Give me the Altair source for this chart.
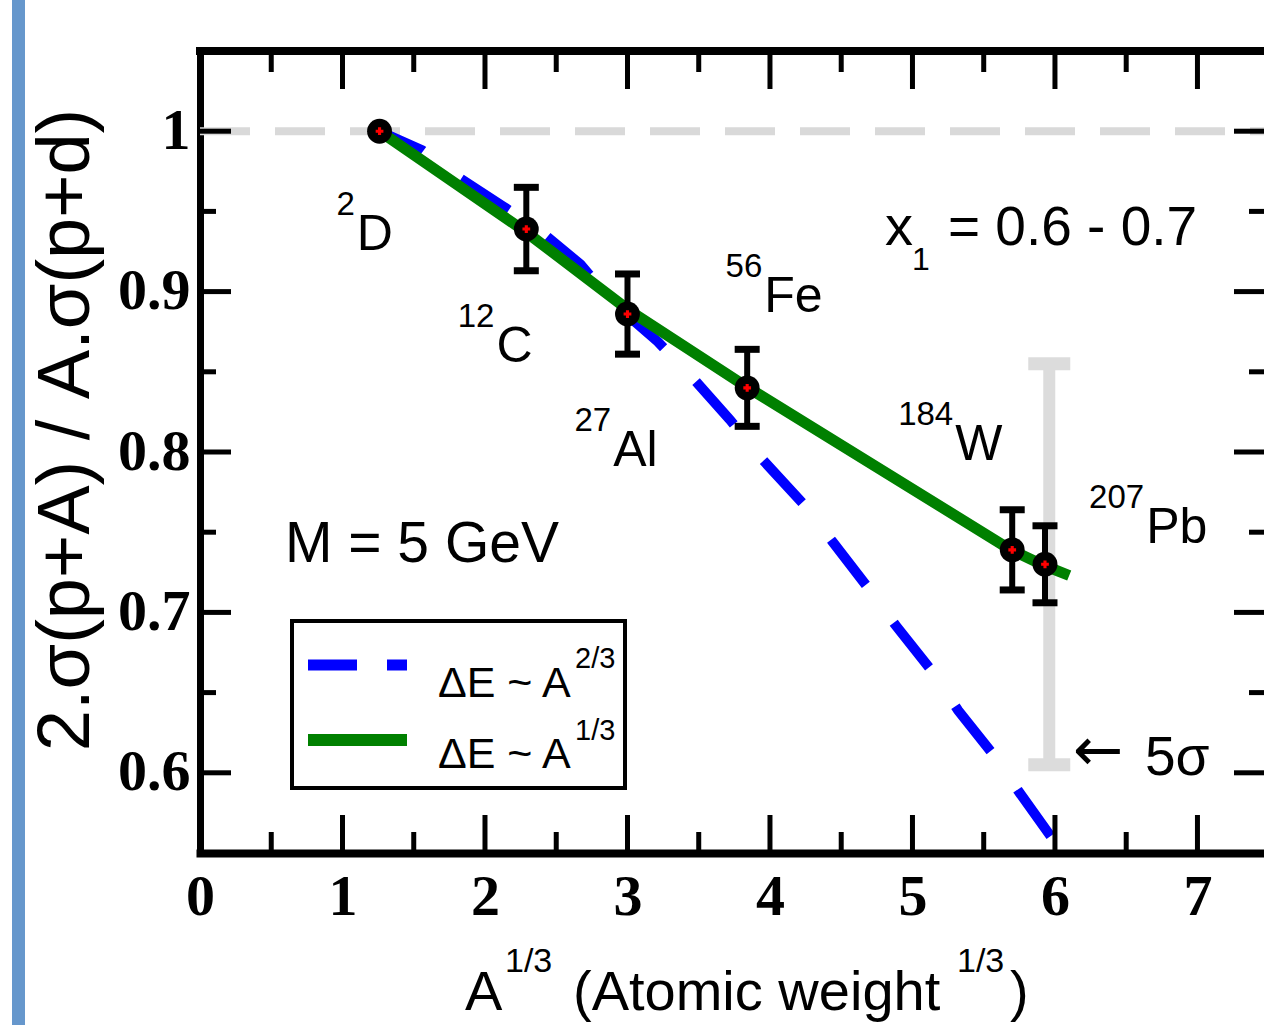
import altair as alt
import pandas as pd

# ---------------- data ----------------
nuclei = ["D", "C", "Al", "Fe", "W", "Pb"]
mass_number = ["2", "12", "27", "56", "184", "207"]
a_third = [1.26, 2.29, 3.00, 3.84, 5.70, 5.93]
ratio = [1.000, 0.939, 0.886, 0.840, 0.739, 0.730]
ratio_err = [0.0, 0.026, 0.025, 0.024, 0.025, 0.024]
label_x = [1.10, 2.08, 2.90, 3.96, 5.30, 6.64]
label_y = [0.926, 0.856, 0.791, 0.887, 0.795, 0.743]

# dE ~ A^(1/3) model curve (green)
green_x = [1.26, 2.29, 3.00, 3.83, 5.69, 5.93, 6.10]
green_y = [1.000, 0.937, 0.889, 0.841, 0.739, 0.729, 0.723]

# dE ~ A^(2/3) model curve (blue dashed)
blue_x = [1.26, 1.56, 1.80, 2.13, 2.37, 2.67, 2.90, 3.21, 3.43, 3.72, 3.94,
          4.23, 4.44, 4.70, 4.89, 5.14, 5.32, 5.57, 5.74, 5.99]
blue_y = [1.000, 0.988, 0.972, 0.953, 0.939, 0.917, 0.893, 0.869, 0.849, 0.820, 0.796,
          0.768, 0.744, 0.714, 0.691, 0.663, 0.639, 0.611, 0.589, 0.558]

sigma5_x = [5.96]
sigma5_lo = [0.605]
sigma5_hi = [0.855]
reference_level = [1.0]

x_labels = [0, 1, 2, 3, 4, 5, 6, 7]
y_labels = [0.6, 0.7, 0.8, 0.9, 1.0]
x_major = [1, 2, 3, 4, 5, 6, 7]
x_minor = [0.5, 1.5, 2.5, 3.5, 4.5, 5.5, 6.5]
y_major = [0.6, 0.7, 0.8, 0.9, 1.0]
y_minor = [0.65, 0.75, 0.85, 0.95]

legend_labels = ["ΔE ~ A", "ΔE ~ A"]
legend_sups = ["2/3", "1/3"]
x_title_parts = ["A", "1/3", "(Atomic weight", "1/3", ")"]
y_title = "2.σ(p+A) / A.σ(p+d)"

ann_text = ["x", "1", "= 0.6 - 0.7", "M = 5 GeV", "←", "5σ"]
ann_x = [4.807, 4.996, 5.249, 0.596, 6.126, 6.632]
ann_y = [0.929, 0.9135, 0.929, 0.7314, 0.6015, 0.5986]

# ---------------- style ----------------
W, H = 1064, 802
SANS = "Liberation Sans, Arial, sans-serif"
SERIF = "Liberation Serif, Times New Roman, serif"
ann_size = [56, 32, 55, 57, 60, 55]
ann_font = [SANS, SANS, SANS, SANS, "DejaVu Sans", SANS]

xs = alt.Scale(domain=[0, 7.467], nice=False, zero=False)
ys = alt.Scale(domain=[0.55, 1.05], nice=False, zero=False)
xaxis = alt.Axis(values=x_labels, format="d", title=None, grid=False, ticks=False, tickSize=0,
                 labelFont=SERIF, labelFontWeight="bold", labelFontSize=58, labelPadding=15,
                 labelColor="black", labelFlush=False, labelOverlap=False,
                 domain=True, domainColor="black", domainWidth=8, domainCap="square")
yaxis = alt.Axis(values=y_labels, title=None, grid=False, ticks=False, tickSize=0,
                 labelExpr="datum.value == 1 ? '1' : format(datum.value, '.1f')",
                 labelFont=SERIF, labelFontWeight="bold", labelFontSize=58, labelPadding=10,
                 labelColor="black", labelFlush=False, labelOverlap=False,
                 domain=True, domainColor="black", domainWidth=7, domainCap="square")


def X(f):
    return alt.X(f, type="quantitative", scale=xs, axis=xaxis)


def Y(f):
    return alt.Y(f, type="quantitative", scale=ys, axis=yaxis)


one = alt.Data(values=[{}])

pts = pd.DataFrame({"nucleus": nuclei, "mass": mass_number, "x": a_third, "y": ratio,
                    "err": ratio_err, "lx": label_x, "ly": label_y})
pts["lo"] = pts["y"] - pts["err"]
pts["hi"] = pts["y"] + pts["err"]

green = pd.DataFrame({"x": green_x, "y": green_y})
blue = pd.DataFrame({"x": blue_x, "y": blue_y})
sig = pd.DataFrame({"x": sigma5_x, "lo": sigma5_lo, "hi": sigma5_hi})

layers = []

# blue page bar on the left
layers.append(alt.Chart(one).mark_rect(color="#6697cc").encode(
    x=alt.value(-188), x2=alt.value(-175), y=alt.value(-51), y2=alt.value(974)))

# reference dashed line at 1
layers.append(alt.Chart(pd.DataFrame({"r": reference_level})).mark_rule(
    color="#d9d9d9", strokeWidth=8, strokeDash=[50, 25]).encode(
    y=Y("r"), x=alt.value(0), x2=alt.value(W)))

# 5 sigma bar
layers.append(alt.Chart(sig).mark_rule(color="#dcdcdc", strokeWidth=12).encode(
    x=X("x"), y=Y("lo"), y2=alt.Y2("hi")))
for f in ["lo", "hi"]:
    layers.append(alt.Chart(sig).mark_tick(color="#dcdcdc", orient="horizontal", size=42,
                                           thickness=13, opacity=1).encode(x=X("x"), y=Y(f)))

# model curves
layers.append(alt.Chart(blue).mark_line(color="#0000ff", strokeWidth=10, strokeDash=[57, 47],
                                        strokeDashOffset=9).encode(x=X("x"), y=Y("y")))
layers.append(alt.Chart(green).mark_line(color="#008000", strokeWidth=11).encode(
    x=X("x"), y=Y("y")))

# error bars
eb = alt.Chart(pts).transform_filter("datum.err > 0")
layers.append(eb.mark_rule(color="black", strokeWidth=6).encode(
    x=X("x"), y=Y("lo"), y2=alt.Y2("hi")))
for f in ["lo", "hi"]:
    layers.append(eb.mark_tick(color="black", orient="horizontal", size=25, thickness=7,
                               opacity=1).encode(x=X("x"), y=Y(f)))

# points
layers.append(alt.Chart(pts).mark_point(shape="circle", filled=True, size=620, color="black",
                                        opacity=1).encode(x=X("x"), y=Y("y")))
layers.append(alt.Chart(pts).mark_point(shape="cross", filled=True, size=60, color="red",
                                        opacity=1).encode(x=X("x"), y=Y("y")))


# inward ticks
def xticks(vals, y0, y1):
    return alt.Chart(pd.DataFrame({"v": vals})).mark_rule(color="black", strokeWidth=5).encode(
        x=X("v"), y=alt.value(y0), y2=alt.value(y1))


def yticks(vals, x0, x1):
    return alt.Chart(pd.DataFrame({"v": vals})).mark_rule(color="black", strokeWidth=5).encode(
        y=Y("v"), x=alt.value(x0), x2=alt.value(x1))


layers += [xticks(x_major, H, H - 38), xticks(x_minor, H, H - 21),
           xticks(x_major, 0, 38), xticks(x_minor, 0, 21),
           yticks(y_major, 0, 31), yticks(y_minor, 0, 16),
           yticks(y_major, W, W - 30), yticks(y_minor, W, W - 15)]

# top frame
layers.append(alt.Chart(one).mark_rule(color="black", strokeWidth=8, strokeCap="square").encode(
    x=alt.value(0), x2=alt.value(W), y=alt.value(0)))

# nucleus labels
layers.append(alt.Chart(pts).mark_text(align="left", baseline="alphabetic", font=SANS,
                                       fontSize=50, color="black").encode(
    x=X("lx"), y=Y("ly"), text="nucleus:N"))
layers.append(alt.Chart(pts).mark_text(align="right", baseline="alphabetic", font=SANS,
                                       fontSize=33, color="black", dx=-2, dy=-35).encode(
    x=X("lx"), y=Y("ly"), text="mass:N"))

# annotations in data coordinates
for t, x, y, s, fnt in zip(ann_text, ann_x, ann_y, ann_size, ann_font):
    layers.append(alt.Chart(pd.DataFrame({"t": [t], "x": [x], "y": [y]})).mark_text(
        align="left", baseline="alphabetic", font=fnt, fontSize=s, color="black").encode(
        x=X("x"), y=Y("y"), text="t:N"))


def ptext(txt, x, y, size, font=SANS, align="left", baseline="alphabetic", angle=None):
    kw = dict(align=align, baseline=baseline, font=font, fontSize=size, color="black")
    if angle is not None:
        kw["angle"] = angle
    return alt.Chart(alt.Data(values=[{"t": txt}])).mark_text(**kw).encode(
        x=alt.value(x), y=alt.value(y), text="t:N")


# legend
layers.append(alt.Chart(one).mark_rect(fill="white", stroke="black", strokeWidth=4).encode(
    x=alt.value(92), x2=alt.value(425), y=alt.value(570), y2=alt.value(737)))
layers.append(alt.Chart(one).mark_rule(color="#0000ff", strokeWidth=11,
                                       strokeDash=[49, 30, 20, 30]).encode(
    x=alt.value(108), x2=alt.value(207), y=alt.value(614)))
layers.append(alt.Chart(one).mark_rule(color="#008000", strokeWidth=12).encode(
    x=alt.value(108), x2=alt.value(207), y=alt.value(689)))
layers.append(ptext(legend_labels[0], 238, 646, 43))
layers.append(ptext(legend_sups[0], 375, 617, 29))
layers.append(ptext(legend_labels[1], 238, 717, 43))
layers.append(ptext(legend_sups[1], 375, 689, 29))

# x axis title
layers.append(ptext(x_title_parts[0], 265, 959, 56))
layers.append(ptext(x_title_parts[1], 305, 921, 34))
layers.append(ptext(x_title_parts[2], 373, 959, 56))
layers.append(ptext(x_title_parts[3], 757, 921, 34))
layers.append(ptext(x_title_parts[4], 810, 959, 56))

# y axis title
layers.append(ptext(y_title, -133, 379, 74, align="center", baseline="middle", angle=270))

chart = alt.layer(*layers).properties(
    width=W, height=H,
    padding={"left": 200, "top": 51, "right": 0, "bottom": 172},
    autosize=alt.AutoSizeParams(type="none"),
    background="white",
).configure_view(stroke=None)

chart.save("out.html", embed_options={"renderer": "svg", "actions": False})
